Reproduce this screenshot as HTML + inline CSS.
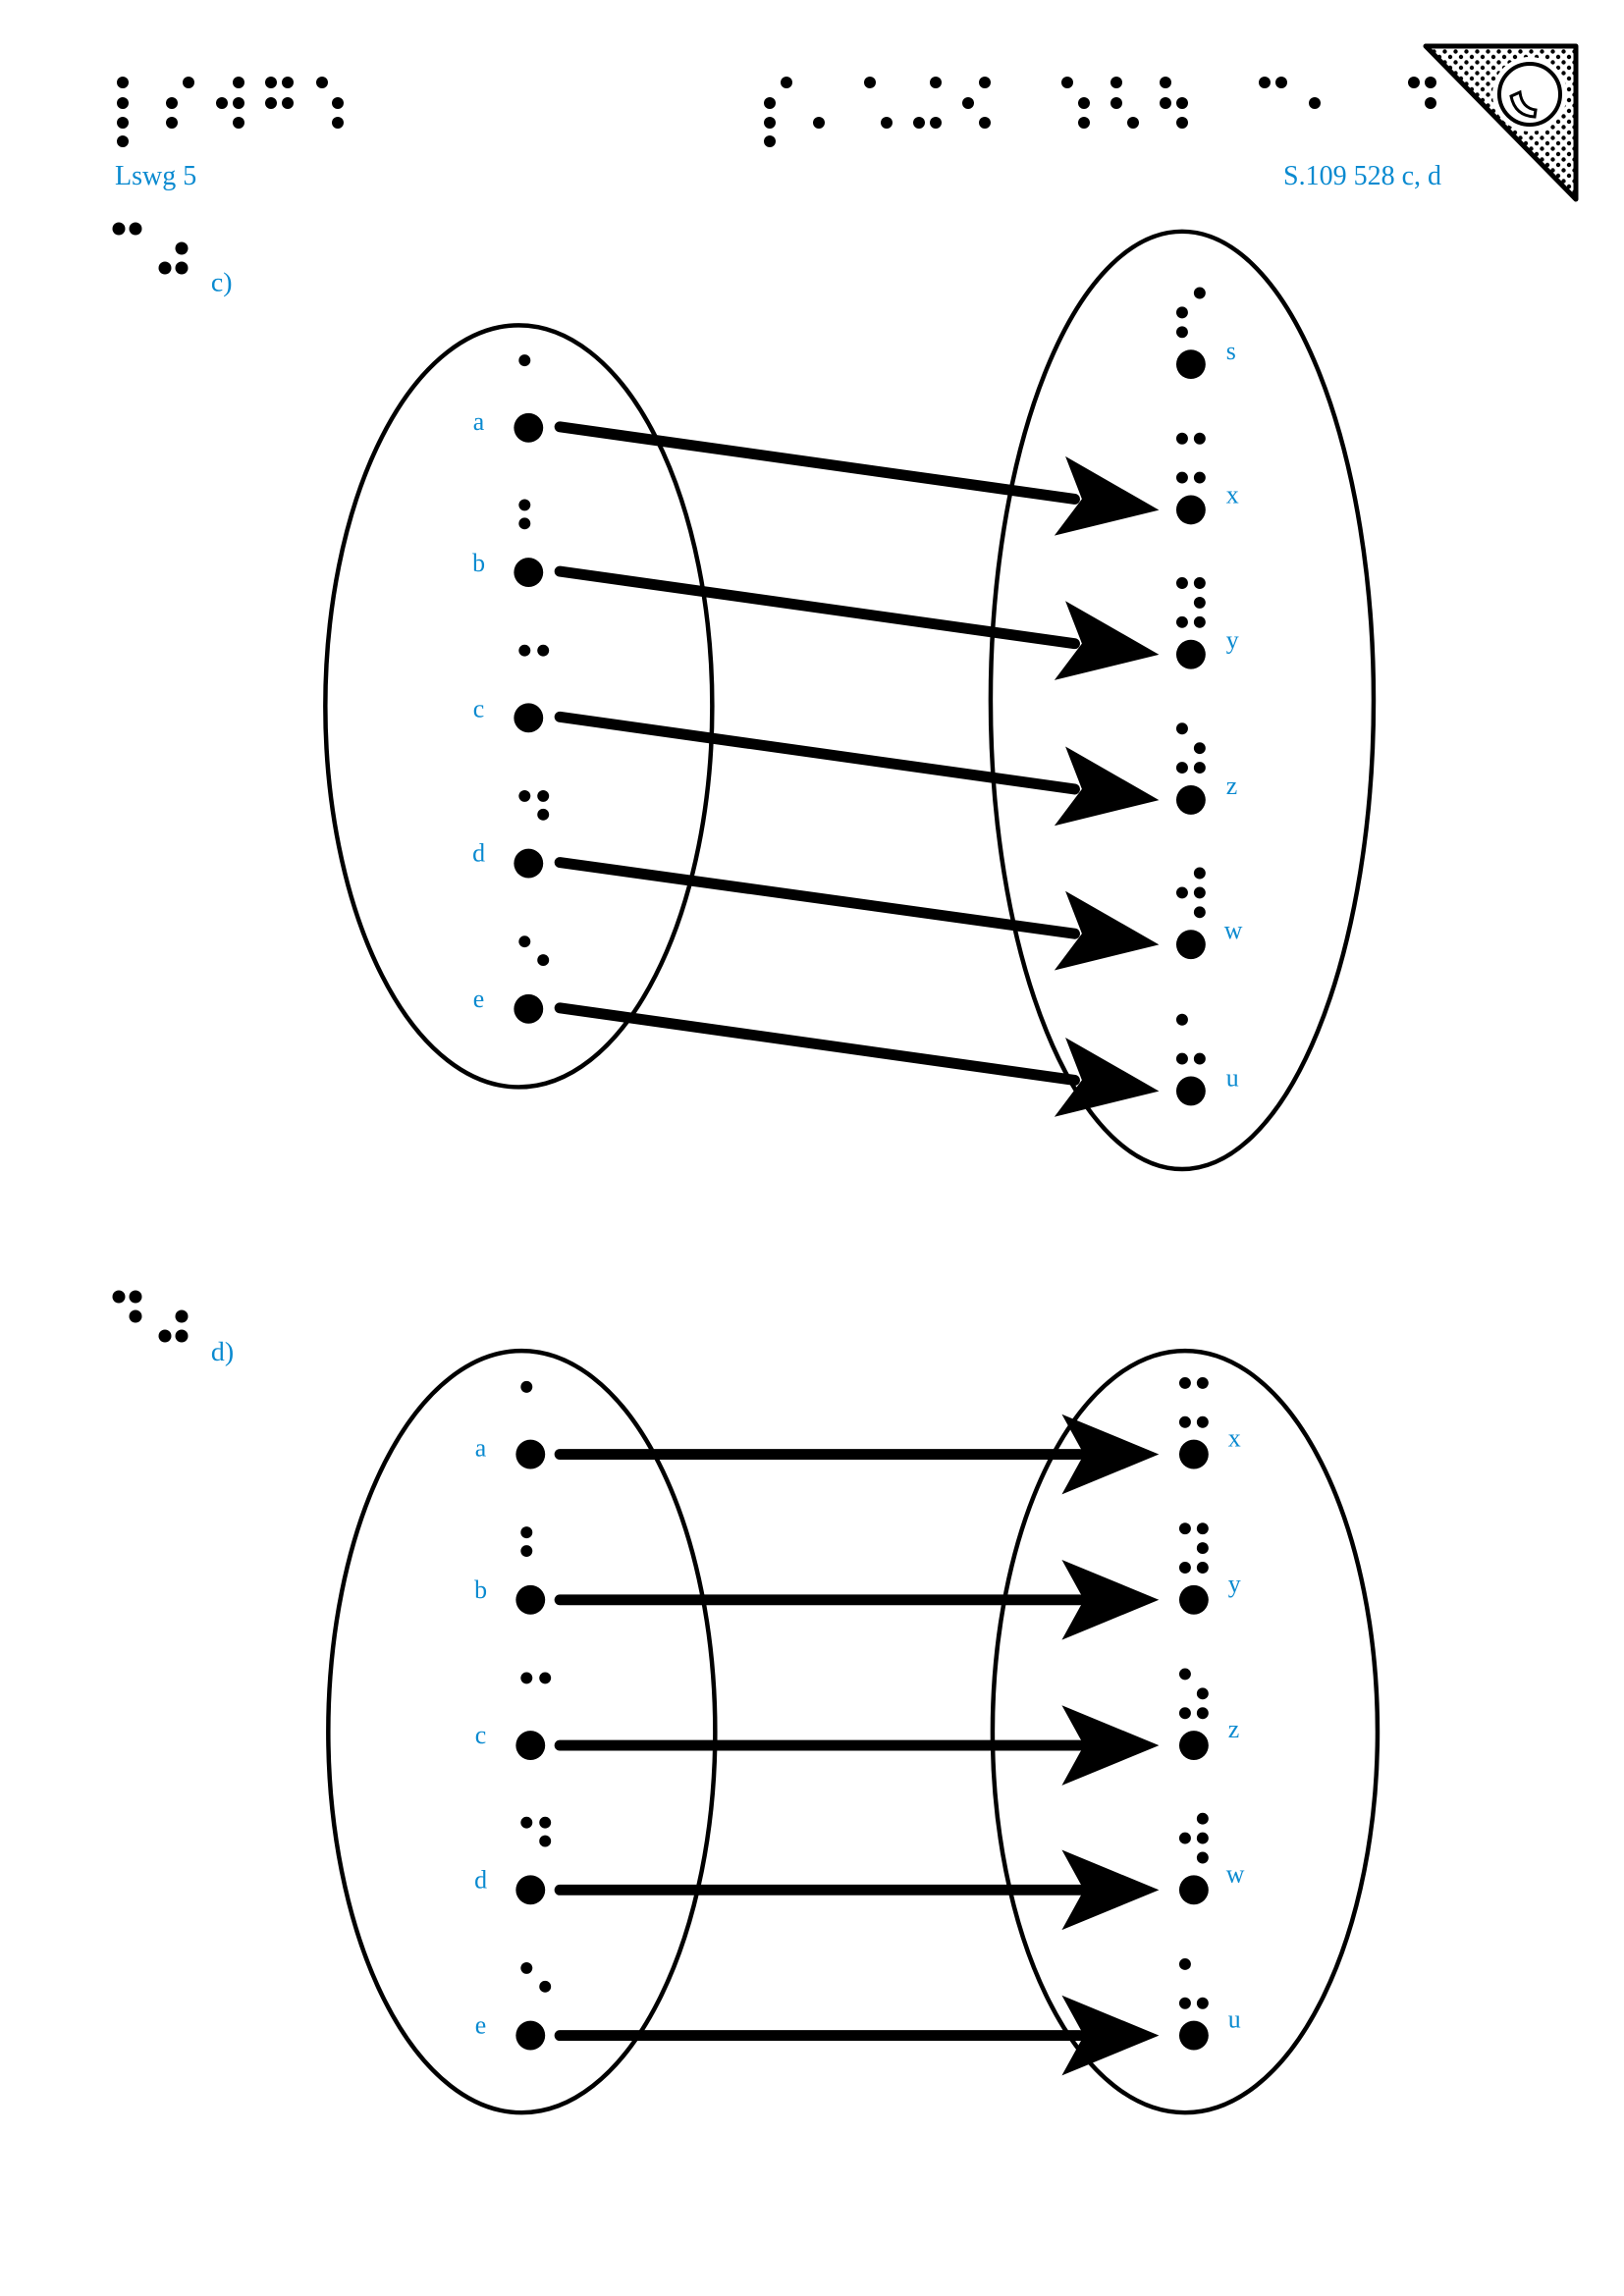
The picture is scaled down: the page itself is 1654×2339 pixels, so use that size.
<!DOCTYPE html>
<html><head><meta charset="utf-8"><style>
html,body{margin:0;padding:0;background:#fff;}
svg{display:block;}
text{font-family:"Liberation Serif",serif;fill:#0a8ad0;}
</style></head><body>
<svg id="s" width="1654" height="2339" viewBox="0 0 1654 2339" xmlns="http://www.w3.org/2000/svg">
<defs>
<pattern id="pd" width="11" height="11" patternUnits="userSpaceOnUse"><circle cx="3" cy="3" r="2.2" fill="#000"/><circle cx="8.5" cy="8.5" r="2.2" fill="#000"/></pattern>
</defs>
<polygon points="1452,47 1605,47 1605,203" fill="url(#pd)" stroke="#000" stroke-width="5" stroke-linejoin="round"/>
<circle cx="1558" cy="96" r="38" fill="#fff"/>
<circle cx="1558" cy="96" r="31" fill="none" stroke="#000" stroke-width="4"/>
<path d="M1539,98 Q1543,118 1563,119 L1564,112 Q1550,110 1548,94 Z" fill="#fff" stroke="#000" stroke-width="3"/>
<text x="117" y="188" font-size="28">Lswg 5</text>
<text x="1468" y="188" font-size="28" text-anchor="end">S.109 528 c, d</text>
<g transform="scale(0.995)">
<text x="216" y="298" font-size="28">c)</text>
<text x="216" y="1393" font-size="28">d)</text>
<g fill="none" stroke="#000" stroke-width="4.5">
<ellipse cx="531" cy="723" rx="198" ry="390"/>
<ellipse cx="1210" cy="717" rx="196" ry="480"/>
<ellipse cx="534" cy="1773" rx="198" ry="390"/>
<ellipse cx="1213" cy="1773" rx="197" ry="390"/>
</g>
<g font-size="26">
<text x="490" y="440" text-anchor="middle">a</text>
<text x="490" y="585" text-anchor="middle">b</text>
<text x="490" y="734" text-anchor="middle">c</text>
<text x="490" y="882" text-anchor="middle">d</text>
<text x="490" y="1031" text-anchor="middle">e</text>
<text x="1255" y="368">s</text>
<text x="1255" y="515">x</text>
<text x="1255" y="664">y</text>
<text x="1255" y="813">z</text>
<text x="1253" y="961">w</text>
<text x="1255" y="1112">u</text>
<text x="492" y="1491" text-anchor="middle">a</text>
<text x="492" y="1636" text-anchor="middle">b</text>
<text x="492" y="1785" text-anchor="middle">c</text>
<text x="492" y="1933" text-anchor="middle">d</text>
<text x="492" y="2082" text-anchor="middle">e</text>
<text x="1257" y="1481">x</text>
<text x="1257" y="1630">y</text>
<text x="1257" y="1779">z</text>
<text x="1255" y="1927">w</text>
<text x="1257" y="2076">u</text>
</g>
<g id="dots2" fill="#000"></g>
<g id="arr" fill="#000" stroke="#000"></g>
</g>
<g id="dots" fill="#000"></g>
</svg>
<script>
var NS="http://www.w3.org/2000/svg",D=document.getElementById("dots"),D2=document.getElementById("dots2"),A=document.getElementById("arr");
function c(x,y,r,g){var e=document.createElementNS(NS,"circle");e.setAttribute("cx",x);e.setAttribute("cy",y);e.setAttribute("r",r);(g||D).appendChild(e);}
var h=[[84,[125,192,243,276,293,328,801,886,953,1003,1087,1137,1187,1288,1305,1440,1457]],
[105,[125,175,226,243,276,293,344,784,986,1104,1137,1187,1204,1339,1457]],
[125,[125,175,243,344,784,834,903,936,953,1003,1104,1154,1204]],
[144,[125,784]]];
h.forEach(function(r){r[1].forEach(function(x){c(x,r[0],6);});});
[[121,233],[138,233],[185,253],[168,273],[185,273],[121,1321],[138,1321],[138,1341],[185,1341],[168,1361],[185,1361]].forEach(function(p){c(p[0],p[1],6.5);});
var L={a:[[0,0]],b:[[0,0],[0,1]],c:[[0,0],[1,0]],d:[[0,0],[1,0],[1,1]],e:[[0,0],[1,1]]};
var R={s:[[1,0],[0,1],[0,2]],x:[[0,0],[1,0],[0,2],[1,2]],y:[[0,0],[1,0],[1,1],[0,2],[1,2]],z:[[0,0],[1,1],[0,2],[1,2]],w:[[1,0],[0,1],[1,1],[1,2]],u:[[0,0],[0,2],[1,2]]};
function left(bx,by,cx0,k){c(bx,by,15,D2);L[k].forEach(function(p){c(cx0+p[0]*19,by-69+p[1]*19,6,D2);});}
function right(bx,by,cx0,k){c(bx,by,15,D2);R[k].forEach(function(p){c(cx0+p[0]*18,by-73+p[1]*20,6,D2);});}
var ly=[438,586,735,884,1033],ks="abcde";
for(var i=0;i<5;i++)left(541,ly[i],537,ks[i]);
var ry=[373,522,670,819,967,1117],rk="sxyzwu";
for(i=0;i<6;i++)right(1219,ry[i],1210,rk[i]);
var by=[1489,1638,1787,1935,2084];
for(i=0;i<5;i++){left(543,by[i],539,ks[i]);right(1222,by[i],1213,"xyzwu"[i]);}
function ln(x1,y1,x2,y2){var e=document.createElementNS(NS,"line");e.setAttribute("x1",x1);e.setAttribute("y1",y1);e.setAttribute("x2",x2);e.setAttribute("y2",y2);e.setAttribute("stroke-width",11);e.setAttribute("stroke-linecap","round");A.appendChild(e);}
function pg(pts){var e=document.createElementNS(NS,"polygon");e.setAttribute("points",pts);e.setAttribute("stroke-width",1);A.appendChild(e);}
for(i=0;i<5;i++){var y0=ly[i]-1,y1=ry[i+1];
ln(573,y0,1100,y1-11);
pg("1185,"+y1+" 1091.5,"+(y1-53.6)+" 1108,"+(y1-11)+" 1080.5,"+(y1+25.6));
var b=by[i];ln(573,b,1105,b);pg("1185,"+b+" 1088,"+(b-40)+" 1110,"+b+" 1088,"+(b+40));}
</script>
</body></html>
